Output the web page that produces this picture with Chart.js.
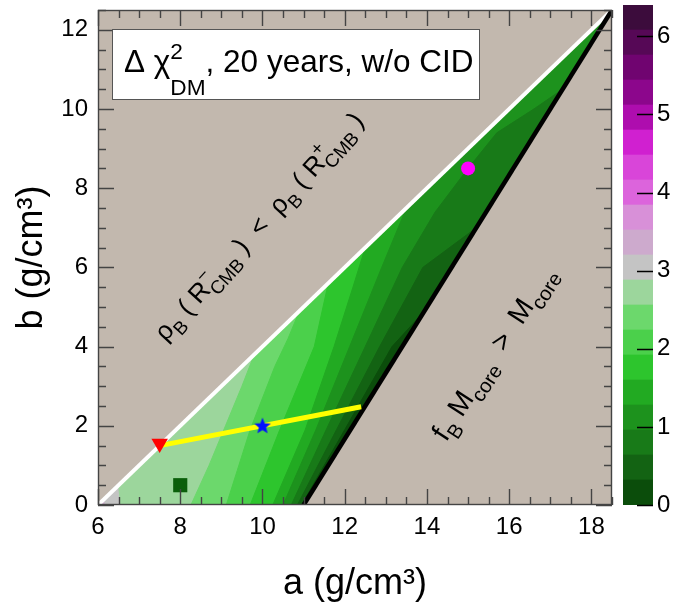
<!DOCTYPE html>
<html>
<head>
<meta charset="utf-8">
<script src="https://cdn.jsdelivr.net/npm/chart.js@4.4.1/dist/chart.umd.min.js"></script>
<style>
  body { margin: 0; background: #fff; }
  #wrap { position: relative; width: 673px; height: 610px; }
  #main { position: absolute; left: 0; top: 0; }
  #bar { position: absolute; left: 622px; top: 0; }
</style>
</head>
<body>
<div id="wrap">
  <canvas id="main" width="622" height="610"></canvas>
  <canvas id="bar" width="51" height="610"></canvas>
</div>
<script>
const FONT = "'Liberation Sans', Arial, sans-serif"

// axis ranges
const aRange = [6, 18.5]
const bRange = [0, 12.5]

// colour scale: contour levels and the colour of each band
const levels = [0, 0.32, 0.64, 0.96, 1.28, 1.6, 1.92, 2.24, 2.56, 2.88, 3.2,
  3.52, 3.84, 4.16, 4.48, 4.8, 5.12, 5.44, 5.76, 6.08, 6.4]
const bandColors = ['#0b4d0b', '#136313', '#187a18', '#1d921d', '#22aa22',
  '#2dc52d', '#4bd04b', '#6cd86c', '#9cd69c', '#c4c4c4',
  '#cdaacd', '#d890d8', '#dc64dc', '#d945d9', '#d020d0',
  '#ae0dae', '#8c068c', '#700470', '#560856', '#3c0c3c']

// borders of the allowed region and the yellow track
const whiteLine = [[6, 0], [18.5, 12.5]]
const blackLine = [[11, 0], [18.5, 12.5]]
const yellowLine = [[7.5, 1.5], [12.4, 2.48]]

// iso-lines of delta chi2 (a, b)
const iso320 = [[6.18, 0], [6.15, 0.15]]
const iso288 = [[6.55, 0], [6.5, 0.5]]
const iso256 = [[8.26, 0], [8.7, 1.0], [9.1, 2.0], [9.5, 3.0], [9.8, 3.8]]
const iso224 = [[9.12, 0], [9.7, 1.9], [10.3, 3.5], [10.62, 4.2], [10.9, 4.9]]
const iso192 = [[9.7, 0], [10.42, 1.9], [11.26, 4.0], [11.6, 5.6]]
const iso160 = [[10.25, 0], [11.04, 1.9], [11.74, 4.0], [12.2, 5.5], [12.5, 6.5]]
const iso128 = [[10.5, 0], [11.3, 1.9], [12.12, 4.0], [12.9, 6.0], [13.5, 7.5]]
const iso096 = [[10.7, 0], [11.55, 1.9], [12.5, 4.0], [13.4, 6.0], [14.2, 7.4],
  [15.0, 8.5], [15.7, 9.4], [16.6, 10.0], [17.3, 10.5]]
const iso064 = [[10.85, 0], [11.8, 1.9], [12.85, 4.0], [13.9, 6.0], [15.2, 7.0]]
const iso032 = [[10.95, 0], [12.0, 1.9], [13.15, 4.0], [13.9, 4.85]]

// markers
const triangle = [[7.5, 1.55]]
const star = [[10, 2]]
const square = [[8, 0.5]]
const circle = [[15, 8.5]]

const pts = arr => arr.map(([x, y]) => ({ x, y }))

function area (poly, color) {
  return {
    data: pts(poly),
    fill: 'shape',
    backgroundColor: color,
    borderColor: color,
    borderWidth: 1,
    pointRadius: 0,
    tension: 0
  }
}

function line (data, color, width) {
  return { data: pts(data), borderColor: color, borderWidth: width, pointRadius: 0, fill: false, tension: 0 }
}

function marker (data, style, radius, color, rotation) {
  return {
    data: pts(data),
    showLine: false,
    pointStyle: style,
    pointRadius: radius,
    pointRotation: rotation || 0,
    pointBackgroundColor: color,
    pointBorderWidth: 0,
    fill: false
  }
}

// filled 5-point star (ROOT marker 29)
const starImg = document.createElement('canvas')
starImg.width = 18
starImg.height = 18
{
  const c = starImg.getContext('2d')
  c.fillStyle = '#0010ff'
  c.beginPath()
  for (let i = 0; i < 10; i++) {
    const r = i % 2 === 0 ? 8.8 : 3.8
    const t = -Math.PI / 2 + i * Math.PI / 5
    c.lineTo(9 + r * Math.cos(t), 9.5 + r * Math.sin(t))
  }
  c.closePath()
  c.fill()
}

const isoLines = [iso320, iso288, iso256, iso224, iso192, iso160, iso128, iso096, iso064, iso032]
const datasets = []
datasets.push(area([whiteLine[0], whiteLine[1], blackLine[0]], bandColors[10]))
isoLines.forEach((iso, i) => {
  datasets.push(area([...iso, blackLine[1], blackLine[0]], bandColors[9 - i]))
})
datasets.push(line(whiteLine, '#ffffff', 4))
datasets.push(line(blackLine, '#000000', 4.5))
datasets.push(line(yellowLine, '#ffff00', 5))
datasets.push(marker(square, 'rect', 10, '#0a5f0a'))
datasets.push(marker(circle, 'circle', 7, '#ff00ff'))
datasets.push(marker(triangle, 'triangle', 9.5, '#ff0000', 180))
datasets.push(marker(star, starImg, 9, '#0010ff'))
datasets.forEach((d, i) => { d.order = datasets.length - i })

function font (s) { return s + 'px ' + FONT }

function partWidth (ctx, p, size, small) {
  if (p.t !== undefined) {
    ctx.font = font(size)
    return ctx.measureText(p.t).width
  }
  ctx.font = font(small)
  return Math.max(p.sup ? ctx.measureText(p.sup).width : 0, p.sub ? ctx.measureText(p.sub).width : 0)
}

function drawRich (ctx, parts, o) {
  const small = o.size * 0.72
  const total = parts.reduce((s, p) => s + partWidth(ctx, p, o.size, small), 0)
  ctx.save()
  ctx.translate(o.x, o.y)
  ctx.rotate(o.angle || 0)
  ctx.fillStyle = '#000'
  ctx.textAlign = 'left'
  ctx.textBaseline = 'alphabetic'
  let cx = o.center ? -total / 2 : 0
  const by = o.center ? o.size * 0.36 : 0
  for (const p of parts) {
    const w = partWidth(ctx, p, o.size, small)
    if (p.t !== undefined) {
      ctx.font = font(o.size)
      ctx.fillText(p.t, cx, by)
    } else {
      ctx.font = font(small)
      if (p.sup) ctx.fillText(p.sup, cx, by + o.supDy * o.size)
      if (p.sub) ctx.fillText(p.sub, cx, by + o.subDy * o.size)
    }
    cx += w
  }
  ctx.restore()
}

const titleParts = [{ t: 'Δ χ' }, { sup: '2', sub: 'DM' }, { t: ', 20 years, w/o CID' }]
const upperParts = [{ t: 'ρ' }, { sub: 'B' }, { t: ' ( R' }, { sup: '−', sub: 'CMB' }, { t: ' )  <  ρ' },
  { sub: 'B' }, { t: ' ( R' }, { sup: '+', sub: 'CMB' }, { t: ' )' }]
const lowerParts = [{ t: 'f' }, { sub: 'B' }, { t: ' M' }, { sub: 'core' }, { t: '  >  M' }, { sub: 'core' }]

const mainDecor = {
  id: 'mainDecor',
  beforeDatasetsDraw (chart) {
    const { ctx, chartArea: ca } = chart
    ctx.save()
    ctx.fillStyle = '#c2b8ae'
    ctx.fillRect(ca.left, ca.top, ca.right - ca.left, ca.bottom - ca.top)
    ctx.restore()
  },
  afterDatasetsDraw (chart) {
    const { ctx, chartArea: ca, scales: { x, y } } = chart
    ctx.save()
    ctx.strokeStyle = '#444'
    ctx.lineWidth = 1.4
    ctx.beginPath()
    x.ticks.forEach(t => {
      const px = Math.round(x.getPixelForValue(t.value)) + 0.5
      const len = t.value % 2 === 0 ? 16 : 8
      ctx.moveTo(px, ca.bottom); ctx.lineTo(px, ca.bottom - len)
      ctx.moveTo(px, ca.top); ctx.lineTo(px, ca.top + len)
    })
    y.ticks.forEach(t => {
      const py = Math.round(y.getPixelForValue(t.value)) + 0.5
      const len = t.value % 2 === 0 ? 16 : 8
      ctx.moveTo(ca.left, py); ctx.lineTo(ca.left + len, py)
      ctx.moveTo(ca.right, py); ctx.lineTo(ca.right - len, py)
    })
    ctx.stroke()
    ctx.strokeRect(ca.left + 0.5, ca.top + 0.5, ca.right - ca.left - 1, ca.bottom - ca.top - 1)

    // legend box
    ctx.fillStyle = '#fff'
    ctx.fillRect(112, 29, 367, 70)
    ctx.strokeStyle = '#555'
    ctx.lineWidth = 1
    ctx.strokeRect(112.5, 29.5, 367, 70)
    drawRich(ctx, titleParts, { x: 124, y: 72, size: 31.5, supDy: -0.42, subDy: 0.72 })

    // region labels
    drawRich(ctx, upperParts, {
      x: x.getPixelForValue(9.9), y: y.getPixelForValue(7.05), size: 26,
      angle: -47.8 * Math.PI / 180, center: true, supDy: -0.45, subDy: 0.3
    })
    drawRich(ctx, lowerParts, {
      x: x.getPixelForValue(15.6), y: y.getPixelForValue(3.85), size: 28,
      angle: -57 * Math.PI / 180, center: true, supDy: -0.45, subDy: 0.3
    })
    ctx.restore()
  }
}

new Chart(document.getElementById('main'), {
  type: 'line',
  data: { datasets },
  options: {
    responsive: false,
    animation: false,
    events: [],
    layout: { padding: { top: 5, right: 3 } },
    plugins: { legend: { display: false }, tooltip: { enabled: false } },
    scales: {
      x: {
        type: 'linear',
        min: aRange[0],
        max: aRange[1],
        grid: { display: false, drawTicks: false },
        border: { display: false },
        ticks: {
          stepSize: 0.5,
          autoSkip: false,
          maxRotation: 0,
          padding: 8,
          color: '#000',
          font: { family: FONT, size: 24 },
          callback: v => (v % 2 === 0 ? v : '')
        },
        title: {
          display: true,
          text: 'a (g/cm³)',
          color: '#000',
          font: { family: FONT, size: 36 },
          padding: { top: 0, bottom: 4 }
        },
        afterFit: s => {
          s.height = 105
          s.paddingLeft = 0
          s.paddingRight = 0
        }
      },
      y: {
        type: 'linear',
        min: bRange[0],
        max: bRange[1],
        grid: { display: false, drawTicks: false },
        border: { display: false },
        ticks: {
          stepSize: 0.5,
          autoSkip: false,
          padding: 10,
          color: '#000',
          font: { family: FONT, size: 24 },
          callback: v => (v % 2 === 0 ? v : '')
        },
        title: {
          display: true,
          text: 'b (g/cm³)',
          color: '#000',
          font: { family: FONT, size: 36 },
          padding: { top: 10, bottom: 0 }
        },
        afterFit: s => {
          s.width = 98
          s.paddingTop = 0
          s.paddingBottom = 0
        }
      }
    }
  },
  plugins: [mainDecor]
})

// colour bar
const barTicks = {
  id: 'barTicks',
  afterDatasetsDraw (chart) {
    const { ctx, chartArea: ca, scales: { y } } = chart
    ctx.save()
    ctx.strokeStyle = '#000'
    ctx.lineWidth = 1.3
    ctx.beginPath()
    y.ticks.forEach(t => {
      if (!Number.isInteger(t.value)) return
      const py = Math.round(y.getPixelForValue(t.value)) + 0.5
      ctx.moveTo(ca.right, py)
      ctx.lineTo(ca.right - 16, py)
    })
    ctx.stroke()
    ctx.restore()
  }
}

new Chart(document.getElementById('bar'), {
  type: 'bar',
  data: {
    labels: [''],
    datasets: bandColors.map((c, i) => ({
      data: [[levels[i], levels[i + 1]]],
      backgroundColor: c,
      borderWidth: 0,
      grouped: false,
      barPercentage: 1,
      categoryPercentage: 1
    }))
  },
  options: {
    responsive: false,
    animation: false,
    events: [],
    layout: { padding: { top: 5, left: 1, bottom: 105 } },
    plugins: { legend: { display: false }, tooltip: { enabled: false } },
    scales: {
      x: { display: false },
      y: {
        position: 'right',
        min: levels[0],
        max: levels[levels.length - 1],
        grid: { display: false, drawTicks: false },
        border: { display: false },
        ticks: {
          stepSize: 1,
          padding: 4,
          color: '#000',
          font: { family: FONT, size: 24 },
          callback: v => (Number.isInteger(v) ? v : '')
        },
        afterFit: s => {
          s.width = 20
          s.paddingTop = 0
          s.paddingBottom = 0
        }
      }
    }
  },
  plugins: [barTicks]
})
</script>
</body>
</html>
